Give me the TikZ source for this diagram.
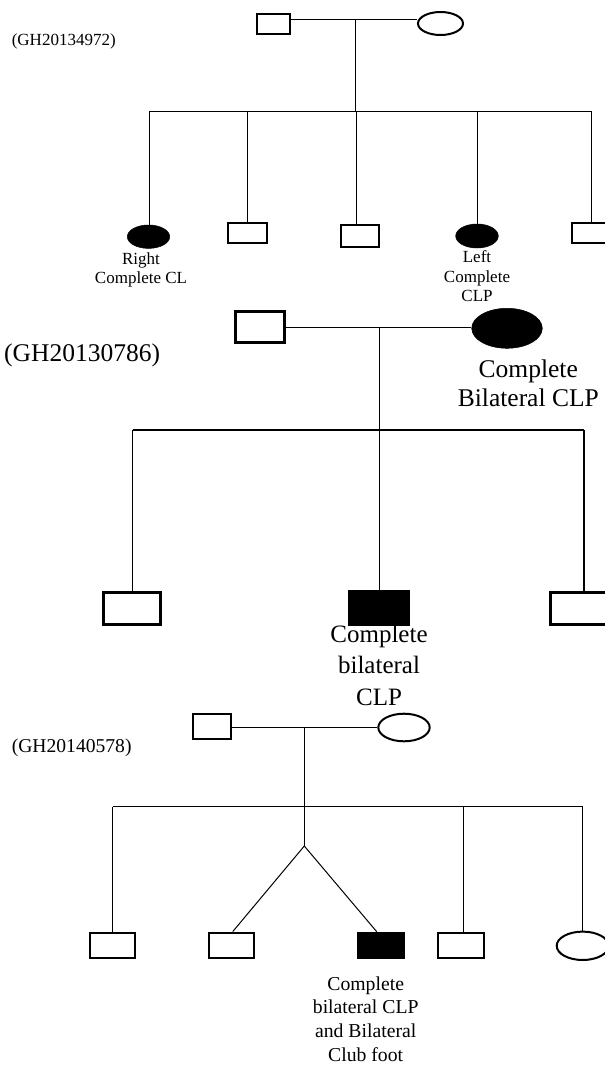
\documentclass[tikz,border=0pt]{standalone}
\usepackage{fontspec}
\setmainfont{Liberation Serif}
\usetikzlibrary{shapes.geometric}
\newcommand{\lbl}[3]{{\fontsize{#1}{#2}\selectfont\begin{tabular}[t]{@{}c@{}}#3\end{tabular}}}
\tikzset{
  sq/.style={rectangle,draw,inner sep=0pt,fill=white},
  el/.style={ellipse,draw,inner sep=0pt,fill=white},
  aff/.style={fill=black},
  lnA/.style={line width=0.9pt},
  lnB/.style={line width=1.1pt},
  lnC/.style={line width=1pt},
  txt/.style={anchor=base,inner sep=0pt},
  idtxt/.style={anchor=base west,inner sep=0pt}
}
\begin{document}
\begin{tikzpicture}[x=1pt,y=-1pt]
\useasboundingbox (0,0) rectangle (605,1066);
\fill[white] (0,0) rectangle (605,1066);

% ---------------- Pedigree 1 ----------------
\node[idtxt] (id1) at (11.6,45.8) {\fontsize{17}{19.5}\selectfont (GH20134972)};
\node[sq,line width=2pt,minimum width=32.5pt,minimum height=20.6pt] (f1) at (273.3,24) {};
\node[el,line width=2pt,minimum width=45pt,minimum height=23pt] (mo1) at (440.5,23.5) {};
\node[el,aff,line width=0.5pt,minimum width=42.4pt,minimum height=23.4pt] (c11) at (148.5,236.7) {};
\node[sq,line width=2pt,minimum width=39.2pt,minimum height=20.6pt] (c12) at (247.5,233) {};
\node[sq,line width=2pt,minimum width=38.9pt,minimum height=22pt] (c13) at (360,236.3) {};
\node[el,aff,line width=0.5pt,minimum width=42.6pt,minimum height=24pt] (c14) at (477,236) {};
\node[sq,line width=2pt,minimum width=39.2pt,minimum height=20.6pt] (c15) at (591.5,233) {};

\coordinate (d1) at (355.7,19.8);
\coordinate (s1) at (355.7,111.7);
\coordinate (s1a) at (149,111.7);
\coordinate (s1b) at (247.3,111.7);
\coordinate (s1c) at (356.5,111.7);
\coordinate (s1d) at (477.2,111.7);
\coordinate (s1e) at (591.6,111.7);
\draw[lnA] (f1.east |- d1) -- (mo1.west |- d1);
\draw[lnA] (d1) -- (s1);
\draw[lnA] (s1a) -- (s1e);
\draw[lnA] (s1a) -- (s1a |- c11.north);
\draw[lnA] (s1b) -- (s1b |- c12.north);
\draw[lnA] (s1c) -- (s1c |- c13.north);
\draw[lnA] (s1d) -- (s1d |- c14.north);
\draw[lnA] (s1e) -- (s1e |- c15.north);

\node[txt] (t11) at (141,264.3) {\lbl{17}{19.3}{Right\\Complete CL}};
\node[txt] (t14) at (477,262.3) {\lbl{17}{19.7}{Left\\Complete\\CLP}};

% ---------------- Pedigree 2 ----------------
\node[idtxt] (id2) at (4,361) {\fontsize{25.5}{29}\selectfont (GH20130786)};
\node[sq,line width=3pt,minimum width=49.3pt,minimum height=31.3pt] (f2) at (260.2,327.2) {};
\node[el,aff,line width=0.5pt,minimum width=70.6pt,minimum height=40pt] (mo2) at (507,328.3) {};
\node[sq,line width=3pt,minimum width=56.8pt,minimum height=32pt] (c21) at (132.1,608.2) {};
\node[sq,aff,line width=1pt,minimum width=60.7pt,minimum height=35pt] (c22) at (379.25,608) {};
\node[sq,line width=3pt,minimum width=56.8pt,minimum height=32pt] (c23) at (579.2,608.3) {};

\coordinate (d2) at (379.3,327.6);
\coordinate (s2a) at (132.7,430);
\coordinate (s2b) at (379.3,430);
\coordinate (s2c) at (584,430);
\draw[lnB] (f2.east |- d2) -- (mo2.west |- d2);
\draw[lnB] (d2) -- (d2 |- c22.north);
\draw[lnB] (s2a) -- (s2c);
\draw[lnB] (s2a) -- (s2a |- c21.north);
\draw[lnB] (s2c) -- (s2c |- c23.north);

\node[txt] (t2m) at (528.3,377.3) {\lbl{25.5}{28.7}{Complete\\Bilateral CLP}};
\node[txt] (t22) at (379,642.5) {\lbl{25}{31.3}{Complete\\bilateral\\CLP}};

% ---------------- Pedigree 3 ----------------
\node[idtxt] (id3) at (11.6,752.8) {\fontsize{19.6}{23}\selectfont (GH20140578)};
\node[sq,line width=2pt,minimum width=38pt,minimum height=25.3pt] (f3) at (211.7,726.4) {};
\node[el,line width=2pt,minimum width=51.4pt,minimum height=27.6pt] (mo3) at (404,727.5) {};
\node[sq,line width=2pt,minimum width=45pt,minimum height=25pt] (c31) at (112.25,945.8) {};
\node[sq,line width=2pt,minimum width=45pt,minimum height=25.3pt] (c32) at (231.8,945.3) {};
\node[sq,aff,line width=1pt,minimum width=47pt,minimum height=26.3pt] (c33) at (381,945.3) {};
\node[sq,line width=2pt,minimum width=45.7pt,minimum height=25.6pt] (c34) at (461.2,945.5) {};
\node[el,line width=2pt,minimum width=52pt,minimum height=28.4pt] (c35) at (582.7,945.8) {};

\coordinate (d3) at (304.3,727);
\coordinate (s3a) at (112.7,806.7);
\coordinate (s3b) at (304.3,806.7);
\coordinate (s3c) at (463.7,806.7);
\coordinate (s3d) at (582.6,806.7);
\coordinate (tw) at (304.3,846);
\coordinate (tw2) at (232.7,931);
\coordinate (tw3) at (376.7,931);
\draw[lnC] (f3.east |- d3) -- (mo3.west |- d3);
\draw[lnC] (d3) -- (s3b);
\draw[lnC] (s3a) -- (s3d);
\draw[lnC] (s3a) -- (s3a |- c31.north);
\draw[lnC] (s3b) -- (tw);
\draw[lnC] (tw) -- (tw2 |- c32.north);
\draw[lnC] (tw) -- (tw3 |- c33.north);
\draw[lnC] (s3c) -- (s3c |- c34.north);
\draw[lnC] (s3d) -- (s3d |- c35.north);

\node[txt] (t33) at (365.7,990) {\lbl{19.7}{23.9}{Complete\\bilateral CLP\\and Bilateral\\Club foot}};
\end{tikzpicture}
\end{document}
